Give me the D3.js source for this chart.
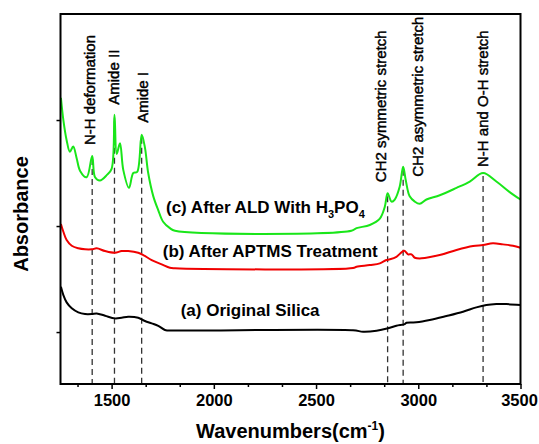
<!DOCTYPE html>
<html>
<head>
<meta charset="utf-8">
<script src="https://cdn.jsdelivr.net/npm/d3@7"></script>
<style>
  body { margin: 0; background: #fff; }
  text { font-family: "Liberation Sans", Arial, sans-serif; }
</style>
</head>
<body>
<div id="chart"></div>
<script>
// wavenumber (cm-1), absorbance (arb.)
const greenData = [
  [1252, 3.21], [1264, 3.00], [1280, 2.81], [1296, 2.70], [1312, 2.75], [1329, 2.64],
  [1346, 2.52], [1378, 2.46], [1405, 2.66], [1419, 2.46], [1443, 2.43], [1476, 2.48],
  [1500, 2.54], [1514, 3.05], [1525, 2.68], [1541, 2.78], [1557, 2.53], [1585, 2.36],
  [1606, 2.50], [1625, 2.51], [1647, 2.86], [1663, 2.74], [1679, 2.50], [1704, 2.28],
  [1728, 2.15], [1752, 2.04], [1785, 1.98], [1810, 1.955], [2673, 1.955], [2698, 1.98],
  [2763, 2.01], [2812, 2.07], [2836, 2.18], [2850, 2.31], [2869, 2.23], [2885, 2.25],
  [2909, 2.37], [2926, 2.56], [2939, 2.43], [2958, 2.28], [2983, 2.23], [3007, 2.21],
  [3040, 2.25], [3105, 2.29], [3187, 2.36], [3252, 2.42], [3317, 2.50], [3382, 2.42],
  [3447, 2.32], [3500, 2.25]
];
const redData = [
  [1252, 2.02], [1264, 1.946], [1280, 1.868], [1305, 1.814], [1337, 1.790], [1370, 1.780],
  [1403, 1.780], [1427, 1.790], [1468, 1.764], [1516, 1.748], [1549, 1.764], [1581, 1.764],
  [1630, 1.748], [1655, 1.726], [1696, 1.679], [1745, 1.639], [1785, 1.607], [1810, 1.602],
  [2681, 1.604], [2698, 1.616], [2763, 1.632], [2812, 1.648], [2844, 1.679], [2861, 1.686],
  [2893, 1.710], [2918, 1.752], [2931, 1.767], [2950, 1.733], [2967, 1.733], [2983, 1.701],
  [3016, 1.695], [3105, 1.726], [3187, 1.774], [3268, 1.811], [3317, 1.821], [3365, 1.837],
  [3414, 1.827], [3463, 1.814], [3500, 1.795]
];
const blackData = [
  [1252, 1.427], [1264, 1.349], [1280, 1.280], [1305, 1.224], [1337, 1.186], [1370, 1.170],
  [1403, 1.170], [1427, 1.176], [1468, 1.154], [1516, 1.129], [1549, 1.135], [1581, 1.144],
  [1630, 1.135], [1663, 1.104], [1696, 1.082], [1728, 1.059], [1761, 1.019], [1777, 1.015],
  [2681, 1.017], [2730, 1.003], [2796, 1.012], [2852, 1.035], [2893, 1.059], [2934, 1.075],
  [2942, 1.088], [2991, 1.092], [3056, 1.113], [3138, 1.151], [3219, 1.192], [3284, 1.233],
  [3333, 1.255], [3382, 1.264], [3431, 1.264], [3500, 1.255]
];
const bandPositions = [1405, 1514, 1647, 2850, 2926, 3317];
const bandNames = ["N-H deformation", "Amide II", "Amide I", "CH2 symmetric stretch", "CH2 asymmetric stretch", "N-H and O-H stretch"];
const majorTicks = [1500, 2000, 2500, 3000, 3500];
const minorTicks = [1333.3, 1666.7, 1833.3, 2166.7, 2333.3, 2666.7, 2833.3, 3166.7, 3333.3];
const yTicks = [1, 2, 3];

const W = 539, H = 444;
const plot = { left: 60.5, right: 520.5, top: 14, bottom: 384 };

const svg = d3.select("#chart").append("svg")
  .attr("width", W)
  .attr("height", H);

const x = d3.scaleLinear().domain([1250, 3500]).range([plot.left, plot.right]);
const y = d3.scaleLinear().domain([0.51, 4.0]).range([plot.bottom, plot.top]);

const line = d3.line()
  .x(d => x(d[0]))
  .y(d => y(d[1]))
  .curve(d3.curveCatmullRom.alpha(0.5));

// dashed band markers, from the green peak down to the axis
const greenAt = w => {
  const i = d3.bisector(d => d[0]).left(greenData, w);
  const a = greenData[Math.max(0, i - 1)], b = greenData[Math.min(greenData.length - 1, i)];
  if (a[0] === b[0]) return a[1];
  return a[1] + (b[1] - a[1]) * (w - a[0]) / (b[0] - a[0]);
};
svg.append("g").selectAll("line")
  .data(bandPositions)
  .join("line")
  .attr("x1", d => x(d)).attr("x2", d => x(d))
  .attr("y1", d => y(greenAt(d)) + 3)
  .attr("y2", plot.bottom)
  .attr("stroke", "#333")
  .attr("stroke-width", 1.3)
  .attr("stroke-dasharray", "6,4");

// spectra
[[blackData, "#000"], [redData, "#f00000"], [greenData, "#19e619"]].forEach(([data, col]) => {
  svg.append("path")
    .datum(data)
    .attr("fill", "none")
    .attr("stroke", col)
    .attr("stroke-width", 2)
    .attr("stroke-linejoin", "round")
    .attr("d", line);
});

// band labels (offsets in px from the marker line / peak)
const labelOffsets = [[-2, -11], [-1, -10], [1.5, -12], [-6.5, -11], [15, 10], [0, -6]];
svg.append("g").selectAll("text")
  .data(bandNames)
  .join("text")
  .attr("transform", (d, i) => {
    const w = bandPositions[i];
    const px = x(w) + labelOffsets[i][0];
    const py = y(greenAt(w)) + labelOffsets[i][1];
    return `translate(${px},${py}) rotate(-90)`;
  })
  .attr("dy", "0.35em")
  .attr("font-size", 15)
  .attr("fill", "#000")
  .attr("stroke", "#000")
  .attr("stroke-width", 0.45)
  .text(d => d);

// series labels
const seriesLabels = [
  { w: 1766, v: 2.125, parts: [["(c) After ALD With H", 0], ["3", 1], ["PO", 0], ["4", 1]] },
  { w: 1750, v: 1.708, parts: [["(b) After APTMS Treatment", 0]] },
  { w: 1838, v: 1.151, parts: [["(a) Original Silica", 0]] }
];
seriesLabels.forEach(s => {
  const t = svg.append("text")
    .attr("x", x(s.w)).attr("y", y(s.v))
    .attr("font-size", 17)
    .attr("font-weight", "bold");
  let sub = false;
  s.parts.forEach(([txt, isSub]) => {
    const ts = t.append("tspan").text(txt);
    if (isSub && !sub) { ts.attr("dy", 5).attr("font-size", 11); sub = true; }
    else if (isSub) { ts.attr("font-size", 11); }
    else if (sub) { ts.attr("dy", -5); sub = false; }
  });
});

// axes
const gx = svg.append("g")
  .attr("transform", `translate(0,${plot.bottom})`)
  .call(d3.axisBottom(x).tickValues(majorTicks).tickSize(5).tickPadding(5).tickFormat(d3.format("d")));
gx.selectAll("text")
  .attr("font-size", 16.5).attr("font-weight", "bold")
  .attr("font-family", "Liberation Sans, Arial, sans-serif").attr("fill", "#000");
gx.selectAll(".tick:last-of-type text").attr("dx", -1.5);
svg.append("g")
  .attr("transform", `translate(0,${plot.bottom})`)
  .call(d3.axisBottom(x).tickValues(minorTicks).tickSize(3).tickFormat(""));
svg.append("g")
  .attr("transform", `translate(${plot.left},0)`)
  .call(d3.axisLeft(y).tickValues(yTicks).tickSize(4).tickFormat(""));
svg.selectAll(".domain").remove();
svg.selectAll(".tick line").attr("stroke", "#000").attr("stroke-width", 1.5);

svg.append("rect")
  .attr("x", plot.left).attr("y", plot.top)
  .attr("width", plot.right - plot.left).attr("height", plot.bottom - plot.top)
  .attr("fill", "none").attr("stroke", "#000").attr("stroke-width", 2);

// axis titles
const xt = svg.append("text")
  .attr("x", (plot.left + plot.right) / 2).attr("y", 438)
  .attr("text-anchor", "middle")
  .attr("font-size", 20).attr("font-weight", "bold");
xt.append("tspan").text("Wavenumbers(cm");
xt.append("tspan").attr("dy", -8).attr("font-size", 12).text("-1");
xt.append("tspan").attr("dy", 8).text(")");

svg.append("text")
  .attr("transform", `translate(21,214) rotate(-90)`)
  .attr("dy", "0.35em")
  .attr("text-anchor", "middle")
  .attr("font-size", 20).attr("font-weight", "bold")
  .text("Absorbance");
</script>
</body>
</html>
